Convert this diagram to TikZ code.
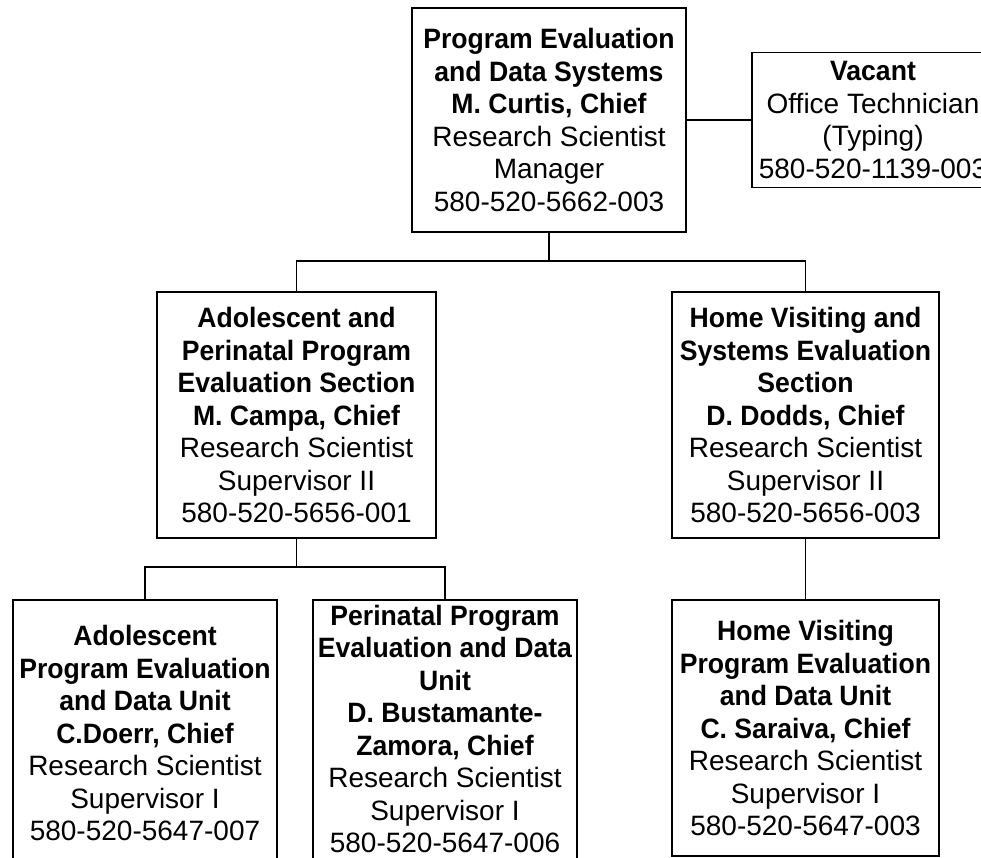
\documentclass[tikz,border=0pt]{standalone}
\usepackage{fontspec}
\setmainfont{Liberation Sans}[BoldFeatures={FakeStretch=0.95}]
\begin{document}
\begin{tikzpicture}[x=1pt,y=-1pt,
  box/.style={draw, line width=1.5pt, inner sep=0pt, align=center,
    font=\fontsize{28}{32.5}\selectfont},
  txt/.style={inner sep=0pt, align=center, font=\fontsize{28}{32.5}\selectfont},
  conn/.style={line width=1.3pt}]
\useasboundingbox (0,0) rectangle (981,858);
\clip (0,0) rectangle (981,858);
\fill[white] (0,0) rectangle (981,858);

\node[box, minimum width=274pt, minimum height=224pt] (top) at (549,120)
  {\textbf{Program Evaluation}\\\textbf{and Data Systems}\\\textbf{M. Curtis, Chief}\\Research Scientist\\Manager\\580-520-5662-003};

\node[box, minimum width=242pt, minimum height=135pt] (vac) at (873,120)
  {\textbf{Vacant}\\Office Technician\\(Typing)\\580-520-1139-003};

\node[box, minimum width=279pt, minimum height=246pt] (ap) at (296.5,415)
  {\textbf{Adolescent and}\\\textbf{Perinatal Program}\\\textbf{Evaluation Section}\\\textbf{M. Campa, Chief}\\Research Scientist\\Supervisor II\\580-520-5656-001};

\node[box, minimum width=267pt, minimum height=246pt] (hv) at (805.5,415)
  {\textbf{Home Visiting and}\\\textbf{Systems Evaluation}\\\textbf{Section}\\\textbf{D. Dodds, Chief}\\Research Scientist\\Supervisor II\\580-520-5656-003};

\node[box, minimum width=264pt, minimum height=266pt] (adu) at (145,733)
  {\textbf{Adolescent}\\\textbf{Program Evaluation}\\\textbf{and Data Unit}\\\textbf{C.Doerr, Chief}\\Research Scientist\\Supervisor I\\580-520-5647-007};

\node[box, minimum width=264pt, minimum height=266pt] (pdu) at (445,733) {};
\node[txt] (pdutext) at (445,729)
  {\textbf{Perinatal Program}\\\textbf{Evaluation and Data}\\\textbf{Unit}\\\textbf{D. Bustamante-}\\\textbf{Zamora, Chief}\\Research Scientist\\Supervisor I\\580-520-5647-006};

\node[box, minimum width=267pt, minimum height=256pt] (hvu) at (805.5,728)
  {\textbf{Home Visiting}\\\textbf{Program Evaluation}\\\textbf{and Data Unit}\\\textbf{C. Saraiva, Chief}\\Research Scientist\\Supervisor I\\580-520-5647-003};

\coordinate (bus1) at (0,261);
\coordinate (bus2) at (0,567);

\draw[conn] (top.east) -- (vac.west);
\draw[conn] (top.south) -- (top.south |- bus1);
\draw[conn] (ap.north) |- (bus1 -| hv.north) -- (hv.north);
\draw[conn] (ap.south) -- (ap.south |- bus2);
\draw[conn] (adu.north) |- (bus2 -| pdu.north) -- (pdu.north);
\draw[conn] (hv.south) -- (hvu.north);
\end{tikzpicture}
\end{document}
